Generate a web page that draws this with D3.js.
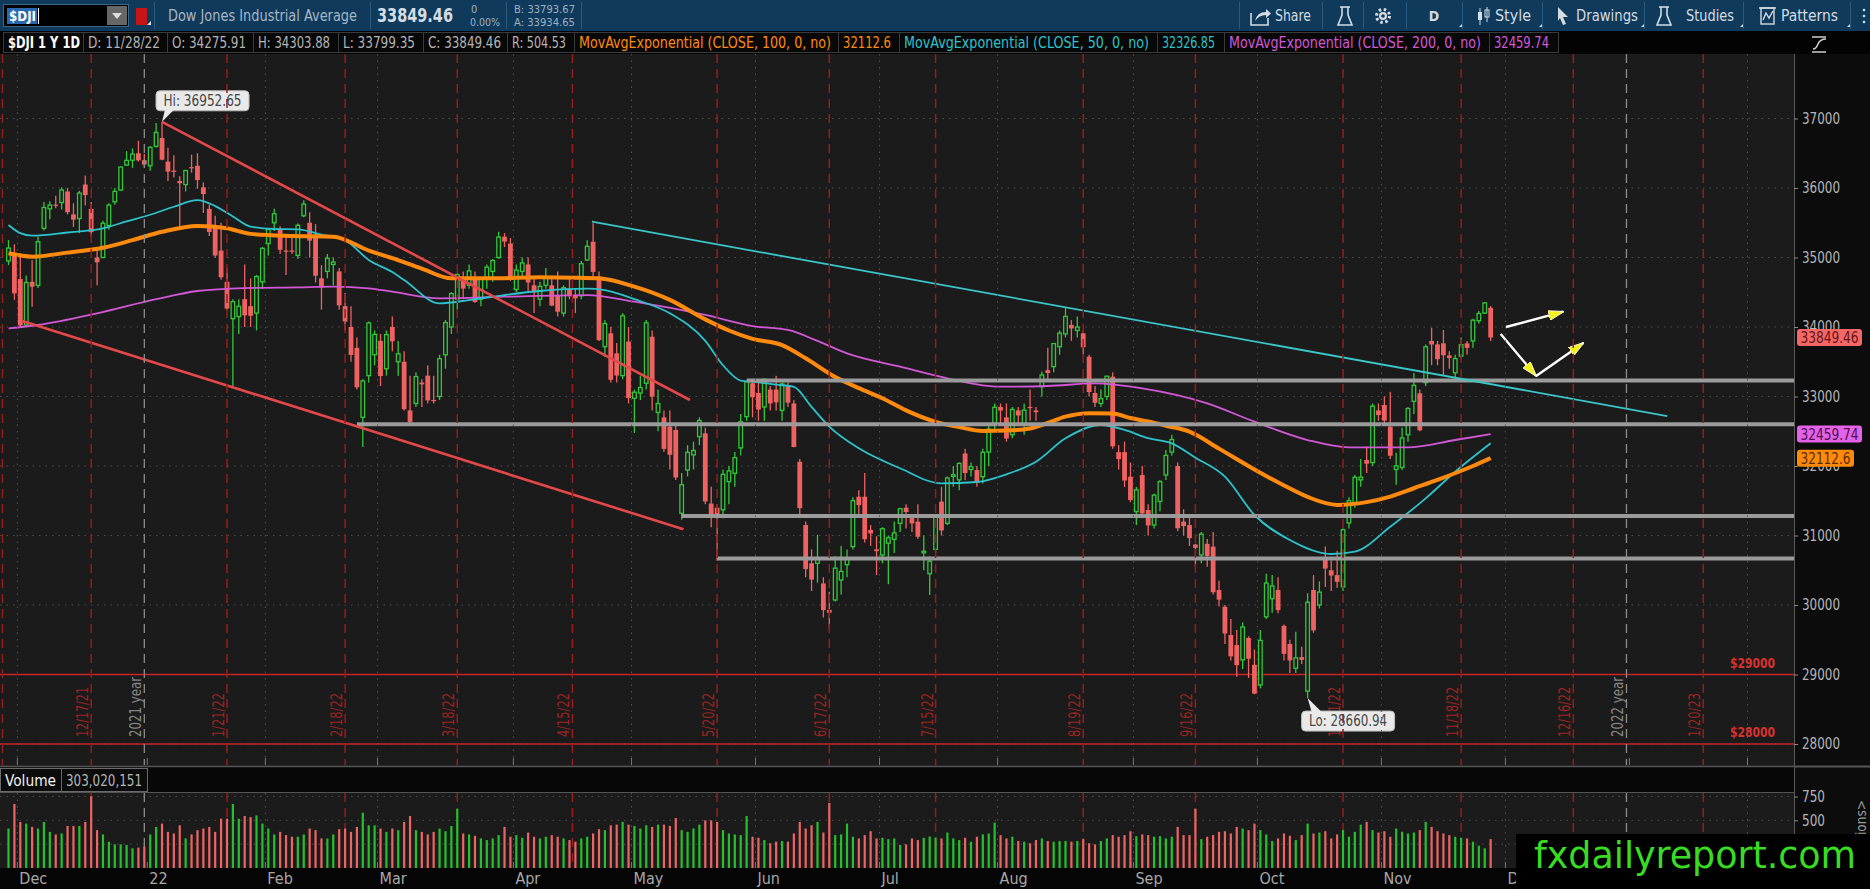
<!DOCTYPE html>
<html>
<head>
<meta charset="utf-8">
<script src="https://cdn.jsdelivr.net/npm/d3@7"></script>
<style>
html, body { margin: 0; padding: 0; background: #000; overflow: hidden; }
svg text { font-family: "Liberation Sans Narrow", "DejaVu Sans Condensed", "Liberation Sans", sans-serif; }
</style>
</head>
<body>
<svg id="chart" width="1870" height="889"></svg>
<script>
// ---- data ----
const holidays = ['2021-12-24', '2022-01-17', '2022-02-21', '2022-04-15', '2022-05-30', '2022-06-20',
	'2022-07-04', '2022-09-05', '2022-11-24', '2022-12-26', '2023-01-02', '2023-01-16'];
const firstDay = '2021-11-29', lastDay = '2023-02-10';
const expiries = ['2021-12-17', '2022-01-21', '2022-02-18', '2022-03-18', '2022-04-15', '2022-05-20', '2022-06-17',
	'2022-07-15', '2022-08-19', '2022-09-16', '2022-10-21', '2022-11-18', '2022-12-16', '2023-01-20'];
const yearEnds = [['2021-12-31', '2021 year'], ['2022-12-30', '2022 year']];
const monthNames = ['Dec', '22', 'Feb', 'Mar', 'Apr', 'May', 'Jun', 'Jul', 'Aug', 'Sep', 'Oct', 'Nov', 'Dec', '23', 'Feb'];
const priceTicks = [28000, 29000, 30000, 31000, 32000, 33000, 34000, 35000, 36000, 37000];
const volTicks = [250, 500, 750];

// open, high, low, close per session, 11/29/21 .. 11/28/22
const ohlc = [
	// Nov-Dec 2021
	[34950,35250,34890,35136],[35070,35190,34390,34484],[34690,35060,34006,34022],[34030,34740,34000,34640],
	[34650,34960,34290,34580],[34600,35300,34560,35227],[35420,35800,35390,35719],[35700,35810,35550,35754],
	[35760,35890,35710,35755],[35790,36010,35690,35971],[35950,36000,35620,35651],[35620,35780,35440,35544],
	[35560,35960,35350,35927],[36050,36180,35750,35898],[35700,35800,35300,35365],[35000,35100,34600,34932],
	[35000,35530,34990,35493],[35460,35780,35400,35754],[35800,36000,35760,35951],[35970,36310,35960,36302],
	[36330,36530,36320,36398],[36400,36570,36290,36489],[36500,36680,36380,36398],[36400,36490,36310,36338],
	// Jan 2022
	[36320,36600,36250,36585],[36600,36935,36580,36800],[36720,36952.65,36400,36407],[36380,36580,36100,36236],
	[36250,36470,36150,36232],[36100,36170,35420,36069],[36050,36260,35950,36252],[36300,36480,36220,36290],
	[36320,36500,35990,36114],[36010,36080,35640,35912],[35700,35760,35310,35368],[35450,35600,35000,35029],
	[35100,35500,34680,34715],[34650,34850,34240,34265],[34120,34400,33150,34365],[34150,34400,33900,34298],
	[34400,34900,34000,34168],[34300,34700,34000,34161],[34200,34750,33950,34725],[34650,35150,34550,35132],
	// Feb
	[35200,35420,35030,35405],[35500,35700,35380,35629],[35400,35450,35050,35111],[35100,35300,34750,35090],
	[35100,35300,35050,35091],[35030,35490,34980,35463],[35600,35825,35580,35768],[35500,35650,35000,35242],
	[35300,35480,34640,34738],[34700,34890,34250,34566],[34800,35050,34700,34989],[34900,35000,34600,34934],
	[34800,34850,34250,34312],[34300,34490,33950,34079],[34000,34300,33500,33597],[33700,33850,33100,33132],
	[32700,33250,32273,33224],[33300,34080,33200,34059],[33600,33950,33450,33893],
	// Mar
	[33800,33900,33150,33295],[33400,33950,33300,33891],[34000,34150,33650,33795],[33500,33800,33300,33615],
	[33500,33650,32800,32817],[32800,33300,32600,32633],[32900,33350,32850,33286],[33200,33250,32850,33174],
	[33300,33450,32900,32944],[32950,33300,32900,32945],[33000,33600,32950,33544],[33600,34100,33400,34063],
	[34000,34500,33900,34481],[34400,34770,34250,34755],[34700,34800,34400,34553],[34600,34900,34550,34807],
	[34700,34800,34350,34359],[34400,34720,34300,34708],[34700,34900,34550,34861],[34800,34980,34650,34956],
	[35000,35370,34980,35294],[35300,35350,35150,35229],[35200,35280,34660,34678],
	// Apr
	[34540,34900,34500,34818],[34800,35000,34700,34922],[34900,35000,34500,34641],[34600,34700,34200,34497],
	[34400,34650,34300,34584],[34600,34850,34550,34721],[34600,34700,34300,34308],[34450,34800,34150,34220],
	[34200,34600,34150,34565],[34550,34700,34400,34451],[34450,34550,34200,34412],[34450,34950,34400,34911],
	[34964,35250,34950,35161],[35227,35492,34700,34793],[34724,34800,33800,33811],[33717,34100,33570,34049],
	[33909,34000,33200,33240],[33620,33770,33200,33302],[33300,34200,33250,34161],[33790,34000,32900,32977],
	// May
	[32974,33100,32475,33062],[33050,33300,32950,33129],[33190,34100,33100,34061],[33860,33950,32800,32998],
	[32770,33100,32500,32899],[32700,32800,32200,32246],[32566,32800,31950,32161],[32518,32600,31800,31834],
	[31320,31900,31228,31730],[31942,32300,31850,32197],[32160,32350,31950,32223],[32422,32700,32300,32655],
	[32470,32550,31450,31490],[31460,31700,31120,31253],[31400,31450,30635,31262],[31370,31950,31250,31880],
	[31775,32000,31450,31929],[31895,32200,31700,32120],[32260,32750,32150,32637],[32710,33213,32650,33213],
	[33190,33250,32700,32990],
	// Jun
	[33050,33250,32650,32813],[32850,33250,32650,33248],[33100,33150,32800,32900],[33100,33300,32800,32916],
	[32800,33200,32650,33180],[33150,33200,32850,32911],[32900,32950,32270,32273],[32060,32100,31300,31393],
	[31150,31200,30400,30517],[30600,30800,30200,30365],[30600,31010,30320,30669],[30310,30400,29820,29927],
	[29930,30190,29653,29889],[30072,30700,30050,30530],[30360,30850,30150,30483],[30580,30800,30400,30677],
	[30840,31550,30800,31501],[31558,31650,31300,31438],[31558,31900,30900,30947],[31080,31150,30850,31029],
	[30800,30990,30430,30775],
	// Jul
	[30720,31120,30600,31097],[30890,31000,30300,30968],[30945,31200,30750,31038],[31175,31400,31050,31385],
	[31400,31450,31100,31338],[31250,31300,31050,31174],[31200,31450,30950,30981],[30750,31000,30500,30773],
	[30450,30700,30143,30630],[30800,31300,30750,31288],[31487,31700,31000,31073],[31175,31850,31150,31827],
	[31850,32000,31700,31875],[31800,32050,31650,32037],[32180,32250,31800,31899],[31950,32050,31850,31990],
	[31942,32000,31700,31762],[31846,32250,31750,32198],[32200,32600,32000,32530],[32614,32900,32500,32845],
	// Aug
	[32850,32900,32600,32798],[32700,32900,32350,32396],[32450,32850,32400,32813],[32800,32850,32600,32727],
	[32600,32900,32450,32803],[32850,33100,32650,32833],[32800,32850,32650,32774],[33140,33360,33000,33310],
	[33380,33700,33250,33337],[33430,33770,33350,33761],[33717,33950,33600,33912],[33900,34282,33850,34152],
	[34030,34100,33800,33980],[33950,34150,33850,33999],[33909,33950,33600,33707],[33573,33600,33000,33064],
	[33050,33150,32850,32910],[32900,33100,32850,32969],[33000,33300,32950,33292],[33285,33350,32250,32283],
	[32200,32300,31950,32099],[32200,32350,31700,31791],[31846,32050,31480,31510],
	// Sep
	[31343,31700,31150,31656],[31870,32000,31250,31318],[31367,31450,31000,31145],[31151,31600,31100,31581],
	[31490,31800,31350,31775],[31870,32230,31800,32152],[32200,32450,32150,32381],[32000,32050,31060,31105],
	[31200,31380,31000,31135],[31150,31300,30850,30962],[30870,30880,30550,30822],[30720,31050,30600,31020],
	[30880,30950,30550,30706],[30840,31050,30150,30184],[30216,30350,29980,30077],[29975,30000,29440,29590],
	[29568,29800,29200,29261],[29424,29640,28969,29135],[29210,29750,29080,29684],[29525,29550,28950,29226],
	[29140,29360,28715,28726],
	// Oct
	[28850,29640,28800,29491],[29830,30450,29800,30316],[30090,30430,29890,30274],[30216,30400,29880,29927],
	[29700,29720,29200,29297],[29440,29500,29020,29203],[29090,29616,29022,29239],[29250,29400,29150,29211],
	[28760,30170,28660.94,30039],[30216,30430,29600,29635],[30000,30340,29950,30186],[30670,30840,30260,30524],
	[30500,30640,30200,30424],[30430,30780,30250,30334],[30260,31100,30200,31083],[31180,31550,31100,31500],
	[31450,31870,31400,31837],[31800,32100,31700,31839],[32086,32280,31900,32033],[32050,32900,32000,32862],
	[32800,32900,32650,32733],
	// Nov
	[32877,33000,32600,32653],[32566,33069,32100,32148],[31950,32190,31730,32001],[31980,32550,31942,32403],
	[32450,32850,32350,32827],[32930,33338,32750,33161],[33046,33100,32500,32514],[33200,33750,33150,33715],
	[33800,33990,33450,33748],[33750,33800,33450,33537],[33765,33957,33300,33593],[33590,33650,33400,33554],
	[33340,33600,33250,33546],[33580,33850,33550,33746],[33765,33800,33600,33700],[33800,34120,33700,34098],
	[34090,34230,34050,34194],[34200,34360,34190,34347],[34275.91,34303.88,33799.35,33849.46]
];

// volume, millions of shares
const volumes = [
	414,672,483,466,431,414,483,379,352,362, 441,441,441,483,752,397,352,276,248,248,
	241,207,214,224,352,431,466,379,362,448, 310,352,397,414,431,379,517,517,672,517,
	545,534,552,466,414,352,379,345,328,328, 352,414,397,310,310,352,407,414,379,431,
	579,448,448,414,379,414,397,483,545,397, 379,352,379,414,386,441,621,362,352,338,
	310,293,310,345,431,328,345,317,372,328, 310,328,345,328,310,293,276,310,328,362,
	407,397,448,455,483,455,441,414,448,431, 455,455,441,524,397,379,414,455,500,500,
	483,397,362,352,345,545,328,317,293,259, 276,283,276,362,483,414,448,483,372,683,
	345,352,466,328,310,345,386,310,317,303, 310,241,248,310,293,317,330,320,
	310,372,310,293,317,276,328,352,362,476, 345,310,328,283,276,259,293,310,283,276,
	283,283,276,283,303,259,248,283,310,345, 328,345,386,334,352,345,328,334,310,328,
	431,345,345,621,303,328,345,379,386,362, 431,414,397,466,397,352,283,310,362,338,
	293,345,466,362,372,386,310,352,397,328, 379,455,483,397,372,386,328,414,380,362,
	372,397,483,431,386,362,345,328,317,310, 276,234,207,303
];

// studies: [bar, value]
const ema50 = [[0,35468],[2,35350],[4,35314],[10,35360],[16,35420],[20,35520],[24,35615],[28,35730],[32,35825],
	[35,35740],[38,35590],[41,35445],[45,35410],[49,35405],[53,35330],[57,35250],[61,34965],[65,34790],[67,34676],
	[73,34340],[78,34388],[84,34460],[90,34518],[98,34551],[101,34530],[106,34400],[112,34197],[118,33800],
	[121,33450],[124,33230],[126,33213],[130,33170],[133,33140],[136,32850],[139,32566],[144,32254],[151,31967],
	[158,31751],[164,31770],[169,31880],[174,32062],[179,32398],[185,32590],[189,32520],[193,32400],[197,32326],
	[201,32120],[206,31846],[211,31295],[217,30935],[224,30734],[228,30767],[234,31127],[240,31535],[245,31918],
	[251,32326.85]];
const ema100 = [[0,35060],[4,35012],[10,35070],[16,35140],[21,35250],[26,35370],[32,35455],[37,35420],[41,35340],
	[48,35310],[55,35300],[61,35100],[65,34990],[70,34840],[75,34700],[82,34700],[90,34715],[96,34710],[100,34700],
	[106,34580],[112,34390],[118,34110],[122,33950],[126,33830],[131,33740],[135,33550],[140,33280],[144,33120],
	[148,32975],[152,32800],[157,32635],[161,32560],[165,32505],[169,32510],[173,32540],[176,32620],[179,32710],
	[183,32760],[187,32755],[190,32690],[193,32640],[196,32580],[200,32495],[205,32250],[211,31950],[216,31720],
	[220,31555],[225,31440],[230,31480],[234,31560],[238,31680],[242,31800],[248,32000],[251,32112.6]];
const ema200 = [[0,33981],[5,34029],[15,34197],[25,34400],[32,34518],[40,34560],[49,34571],[55,34580],[61,34557],
	[65,34508],[73,34413],[84,34436],[98,34460],[106,34364],[118,34173],[126,34014],[132,33957],[137,33800],
	[142,33621],[151,33429],[159,33262],[168,33141],[176,33151],[184,33189],[192,33117],[203,32901],[211,32638],
	[220,32374],[227,32269],[237,32269],[245,32374],[251,32459.74]];

// drawings: [bar, price]
const channelUpper = [[26, 36952.65], [115.4, 32950]];
const channelLower = [[2.2, 34091], [114.3, 31089]];
const cyanTrend = [[98.8, 35515], [280.9, 32719]];
const srLevels = [[125, 33230], [59, 32600], [114, 31280], [120, 30670]];
const priceLevels = [29000, 28000];
const arrows = [
	[[253.6, 34000], [263.3, 34220]],
	[[252.7, 33899], [258.7, 33295]],
	[[258.7, 33295], [266.7, 33770]]
];

// ---- layout ----
const W = 1870, H = 889;
const PLOT_R = 1794, PLOT_T = 54, PLOT_B = 765;
const VOL_T = 793, VOL_B = 868;
const STEP = 5.905;
const BG = '#1b1b1b', UP = '#33c83b', DOWN = '#f06262';
const ORANGE = '#ff8a0d', CYAN = '#2cc3cc', MAGENTA = '#d258d6', GRAY = '#b4b4b4';

const parse = d3.utcParse('%Y-%m-%d');
const holidaySet = new Set(holidays);
const days = [];
for (let d = parse(firstDay); d <= parse(lastDay); d = d3.utcDay.offset(d, 1)) {
	const wd = d.getUTCDay();
	const key = d3.utcFormat('%Y-%m-%d')(d);
	if (wd !== 0 && wd !== 6 && !holidaySet.has(key)) days.push(d);
}
function dayIndex(s) {
	const t = parse(s);
	const i = days.findIndex(d => d >= t);
	return +days[i] === +t ? i : i - 0.5;
}

const bars = ohlc.map((r, i) => ({ i: i, o: r[0], h: r[1], l: r[2], c: r[3], v: volumes[i], up: r[3] > r[0] }));
const last = bars[bars.length - 1];

const x = d3.scaleLinear().domain([0, 1]).range([8.5, 8.5 + STEP]);
const y = d3.scaleLinear().domain([28000, 37000]).range([744, 118.5]);
const yv = d3.scaleLinear().domain([0, 750]).range([VOL_B, 796.5]);

const svg = d3.select('#chart');

function txt(g, px, py, s, o) {
	o = o || {};
	const t = g.append('text').attr('x', px).attr('y', py).text(s)
		.attr('fill', o.fill || GRAY)
		.attr('font-size', o.size || 14)
		.attr('text-anchor', o.anchor || 'start');
	if (o.bold) t.attr('font-weight', 'bold');
	if (o.len) t.attr('textLength', o.len).attr('lengthAdjust', 'spacingAndGlyphs');
	return t;
}

// backgrounds
svg.append('rect').attr('width', W).attr('height', H).attr('fill', '#050505');
svg.append('rect').attr('x', 0).attr('y', PLOT_T).attr('width', PLOT_R).attr('height', PLOT_B - PLOT_T).attr('fill', BG);
svg.append('rect').attr('x', 0).attr('y', VOL_T).attr('width', PLOT_R).attr('height', VOL_B - VOL_T).attr('fill', BG);
svg.append('rect').attr('x', PLOT_R).attr('y', PLOT_T).attr('width', W - PLOT_R).attr('height', VOL_B - PLOT_T).attr('fill', '#0c0c0c');
svg.append('line').attr('x1', PLOT_R + 0.5).attr('x2', PLOT_R + 0.5).attr('y1', PLOT_T).attr('y2', VOL_B).attr('stroke', '#5a5a5a');
svg.append('line').attr('x1', 0).attr('x2', W).attr('y1', 766.5).attr('y2', 766.5).attr('stroke', '#555').attr('stroke-width', 2);
svg.append('line').attr('x1', 0).attr('x2', PLOT_R).attr('y1', 792.5).attr('y2', 792.5).attr('stroke', '#555');

const defs = svg.append('defs');
defs.append('clipPath').attr('id', 'plotClip').append('rect')
	.attr('x', 0).attr('y', PLOT_T).attr('width', PLOT_R).attr('height', PLOT_B - PLOT_T);
defs.append('marker').attr('id', 'yhead').attr('viewBox', '0 0 16 10').attr('refX', 15).attr('refY', 5)
	.attr('markerWidth', 16).attr('markerHeight', 10).attr('markerUnits', 'userSpaceOnUse').attr('orient', 'auto')
	.append('path').attr('d', 'M0,0 L16,5 L0,10 Z').attr('fill', '#f2f21e').attr('stroke', '#fff').attr('stroke-width', 0.8);

const plot = svg.append('g').attr('clip-path', 'url(#plotClip)');

// grid
plot.selectAll('line.hgrid').data(priceTicks).join('line')
	.attr('x1', 0).attr('x2', PLOT_R).attr('y1', d => y(d)).attr('y2', d => y(d))
	.attr('stroke', '#4e4e4e').attr('stroke-dasharray', '1.5,5');
svg.selectAll('line.vgrid').data(volTicks).join('line')
	.attr('x1', 0).attr('x2', PLOT_R).attr('y1', d => yv(d)).attr('y2', d => yv(d))
	.attr('stroke', '#4e4e4e').attr('stroke-dasharray', '1.5,5');

// month ticks (first session of each month; the data starts in late November)
const months = [];
days.forEach((d, i) => {
	if (i > 0 && d.getUTCMonth() !== days[i - 1].getUTCMonth()) months.push({ i: i, d: d });
});
months.forEach((m, k) => { m.label = monthNames[k]; m.x = x(m.i) - STEP / 2; });
const monthLines = months.filter(m => m.d.getUTCMonth() !== 0);
[[PLOT_T, PLOT_B], [VOL_T, VOL_B]].forEach(r => {
	svg.append('g').selectAll('line').data(monthLines).join('line')
		.attr('x1', d => d.x).attr('x2', d => d.x).attr('y1', r[0]).attr('y2', r[1])
		.attr('stroke', '#555').attr('stroke-dasharray', '1.5,5');
});
svg.append('g').selectAll('line').data(months).join('line')
	.attr('x1', d => d.x).attr('x2', d => d.x).attr('y1', PLOT_B - 7).attr('y2', PLOT_B)
	.attr('stroke', '#777');
svg.append('g').selectAll('line').data(months).join('line')
	.attr('x1', d => d.x).attr('x2', d => d.x).attr('y1', VOL_B - 6).attr('y2', VOL_B)
	.attr('stroke', '#777');

// expiry and year lines
const expFmt = d3.utcFormat('%-m/%-d/%y');
const expData = expiries.map(s => ({ x: x(dayIndex(s)), label: expFmt(parse(s)) }));
[[PLOT_T, PLOT_B], [VOL_T, VOL_B]].forEach(r => {
	svg.append('g').selectAll('line').data(expData).join('line')
		.attr('x1', d => d.x).attr('x2', d => d.x).attr('y1', r[0]).attr('y2', r[1])
		.attr('stroke', '#961d1d').attr('stroke-width', 1.5).attr('stroke-dasharray', '9,6');
	svg.append('g').selectAll('line').data(yearEnds).join('line')
		.attr('x1', d => x(dayIndex(d[0]))).attr('x2', d => x(dayIndex(d[0]))).attr('y1', r[0]).attr('y2', r[1])
		.attr('stroke', '#8c8c8c').attr('stroke-width', 1.3).attr('stroke-dasharray', '9,6');
});
svg.append('line').attr('x1', 2.5).attr('x2', 2.5).attr('y1', PLOT_T).attr('y2', PLOT_B)
	.attr('stroke', '#961d1d').attr('stroke-width', 1.5).attr('stroke-dasharray', '9,6');
expData.forEach(d => {
	txt(plot, 0, 0, d.label, { fill: '#9a2424', size: 15, len: d.label.length > 7 ? 50 : 44 })
		.attr('transform', 'translate(' + (d.x - 3) + ',737) rotate(-90)');
});
yearEnds.forEach(d => {
	txt(plot, 0, 0, d[1], { fill: '#858585', size: 15, len: 60 })
		.attr('transform', 'translate(' + (x(dayIndex(d[0])) - 3) + ',737) rotate(-90)');
});

// fixed price levels
priceLevels.forEach(p => {
	plot.append('line').attr('x1', 0).attr('x2', PLOT_R).attr('y1', y(p)).attr('y2', y(p))
		.attr('stroke', '#c8242a').attr('stroke-width', 1.6);
	txt(plot, 1775, y(p) - 7, '$' + p, { fill: '#d8322f', size: 14, bold: true, anchor: 'end', len: 45 });
});

// candles
const cg = plot.append('g');
cg.selectAll('line').data(bars).join('line')
	.attr('x1', d => x(d.i)).attr('x2', d => x(d.i))
	.attr('y1', d => y(d.h)).attr('y2', d => y(d.l))
	.attr('stroke', d => d.up ? UP : DOWN).attr('stroke-width', 1.3);
cg.selectAll('rect').data(bars).join('rect')
	.attr('x', d => d.up ? x(d.i) - 1.8 : x(d.i) - 2.4)
	.attr('width', d => d.up ? 3.6 : 4.8)
	.attr('y', d => y(Math.max(d.o, d.c)))
	.attr('height', d => Math.max(1.2, Math.abs(y(d.o) - y(d.c))))
	.attr('fill', d => d.up ? BG : DOWN)
	.attr('stroke', d => d.up ? UP : 'none').attr('stroke-width', 1.3);

// moving averages
const emaLine = d3.line().x(d => x(d[0])).y(d => y(d[1])).curve(d3.curveMonotoneX);
plot.append('path').attr('d', emaLine(ema200)).attr('fill', 'none').attr('stroke', MAGENTA).attr('stroke-width', 1.8);
plot.append('path').attr('d', emaLine(ema50)).attr('fill', 'none').attr('stroke', CYAN).attr('stroke-width', 1.8);
plot.append('path').attr('d', emaLine(ema100)).attr('fill', 'none').attr('stroke', ORANGE).attr('stroke-width', 4);

// drawings
srLevels.forEach(s => {
	plot.append('line').attr('x1', x(s[0])).attr('x2', PLOT_R).attr('y1', y(s[1])).attr('y2', y(s[1]))
		.attr('stroke', '#9b9b9b').attr('stroke-width', 4);
});
const seg = d3.line().x(d => x(d[0])).y(d => y(d[1]));
[channelUpper, channelLower].forEach(l => {
	plot.append('path').attr('d', seg(l)).attr('stroke', '#e5484b').attr('stroke-width', 2.6).attr('fill', 'none');
});
plot.append('path').attr('d', seg(cyanTrend)).attr('stroke', '#3cc6c8').attr('stroke-width', 1.8).attr('fill', 'none');
arrows.forEach(a => {
	plot.append('path').attr('d', seg(a)).attr('stroke', '#fff').attr('stroke-width', 2.4)
		.attr('fill', 'none').attr('marker-end', 'url(#yhead)');
});

// hi / lo bubbles
const hiBar = bars.reduce((a, b) => b.h > a.h ? b : a);
const loBar = bars.reduce((a, b) => b.l < a.l ? b : a);
function bubble(px, py, s, above) {
	const g = plot.append('g');
	const by = above ? py - 31 : py + 13;
	const tail = above
		? 'M' + (px + 3) + ',' + (by + 19) + ' L' + px + ',' + py + ' L' + (px + 12) + ',' + (by + 19) + ' Z'
		: 'M' + (px + 4) + ',' + (by + 1) + ' L' + px + ',' + py + ' L' + (px + 14) + ',' + (by + 1) + ' Z';
	g.append('rect').attr('x', px - 6).attr('y', by).attr('width', 93).attr('height', 20).attr('rx', 4)
		.attr('fill', '#e9e9e9').attr('stroke', '#bdbdbd');
	g.append('path').attr('d', tail).attr('fill', '#e9e9e9');
	txt(g, px + 40.5, by + 15, s, { fill: '#454545', size: 15, anchor: 'middle', len: 78 });
}
bubble(x(hiBar.i), y(hiBar.h), 'Hi: ' + d3.format('.2f')(hiBar.h), true);
bubble(x(loBar.i), y(loBar.l), 'Lo: ' + d3.format('.2f')(loBar.l), false);

// volume
svg.append('g').selectAll('rect').data(bars).join('rect')
	.attr('x', d => x(d.i) - 1.1).attr('width', 2.2)
	.attr('y', d => yv(d.v)).attr('height', d => VOL_B - yv(d.v))
	.attr('fill', d => d.up ? '#25c02e' : '#ec6464');

// price axis
const axis = svg.append('g').attr('transform', 'translate(' + PLOT_R + ',0)')
	.call(d3.axisRight(y).tickValues(priceTicks).tickSize(4).tickPadding(4).tickFormat(d3.format('d')));
axis.select('.domain').remove();
axis.selectAll('line').attr('stroke', '#888');
axis.selectAll('text').attr('fill', GRAY).attr('font-size', 15)
	.attr('textLength', 38).attr('lengthAdjust', 'spacingAndGlyphs');
const vaxis = svg.append('g').attr('transform', 'translate(' + PLOT_R + ',0)')
	.call(d3.axisRight(yv).tickValues(volTicks).tickSize(4).tickPadding(4).tickFormat(d3.format('d')));
vaxis.select('.domain').remove();
vaxis.selectAll('line').attr('stroke', '#888');
vaxis.selectAll('text').attr('fill', GRAY).attr('font-size', 15)
	.attr('textLength', 23).attr('lengthAdjust', 'spacingAndGlyphs');
txt(svg, 0, 0, '<Millions>', { fill: '#9a9a9a', size: 14, anchor: 'end', len: 66 })
	.attr('transform', 'translate(1866,800) rotate(-90)');

// last-value bubbles
const tags = [
	{ v: last.c, label: d3.format('.2f')(last.c), fill: '#f46767', ink: '#651616', w: 65 },
	{ v: ema200[ema200.length - 1][1], label: '32459.74', fill: '#e462e7', ink: '#4f0f52', w: 65 },
	{ v: ema100[ema100.length - 1][1], label: '32112.6', fill: '#ff8a0a', ink: '#5c2a00', w: 57 }
];
tags.forEach(t => {
	svg.append('rect').attr('x', 1797).attr('y', y(t.v) - 8.5).attr('width', t.w).attr('height', 17).attr('rx', 3)
		.attr('fill', t.fill);
	txt(svg, 1797 + t.w / 2, y(t.v) + 5.5, t.label, { fill: t.ink, size: 15, anchor: 'middle', len: t.w - 7 });
});

// volume header and x axis
svg.append('rect').attr('x', 0).attr('y', 767.5).attr('width', PLOT_R).attr('height', 24.5).attr('fill', '#070707');
svg.append('rect').attr('x', 0.5).attr('y', 768.5).attr('width', 61).attr('height', 23).attr('fill', '#0b0b0b').attr('stroke', '#6a6a6a');
svg.append('rect').attr('x', 61.5).attr('y', 768.5).attr('width', 86).attr('height', 23).attr('fill', '#0b0b0b').attr('stroke', '#6a6a6a');
txt(svg, 5, 786, 'Volume', { fill: '#f0f0f0', size: 15, len: 51 });
txt(svg, 66, 786, d3.format(',')(303020151), { fill: GRAY, size: 15, len: 76 });
months.forEach(m => {
	txt(svg, m.x + 2, 884, m.label, { fill: '#a8a8a8', size: 16 });
});

// header row 1
const hdr = svg.append('g');
hdr.append('rect').attr('width', W).attr('height', 31).attr('fill', '#0f3a5c');
hdr.append('rect').attr('x', 3.5).attr('y', 4.5).attr('width', 125).attr('height', 22).attr('fill', '#000').attr('stroke', '#3f6586');
hdr.append('rect').attr('x', 7).attr('y', 8).attr('width', 30).attr('height', 16).attr('fill', '#2b68ad');
txt(hdr, 9, 21, '$DJI', { fill: '#fff', size: 14, bold: true, len: 27 });
hdr.append('line').attr('x1', 38.5).attr('x2', 38.5).attr('y1', 8).attr('y2', 24).attr('stroke', '#fff');
hdr.append('rect').attr('x', 107).attr('y', 6).attr('width', 20).attr('height', 19).attr('fill', '#666');
hdr.append('path').attr('d', 'M112,13 L122,13 L117,19 Z').attr('fill', '#ddd');
hdr.append('rect').attr('x', 136).attr('y', 8).attr('width', 11).attr('height', 17).attr('fill', '#c41616');
hdr.append('path').attr('d', 'M147,25 L151,25 L151,21 Z').attr('fill', '#dfe6ec');
[154, 370, 506, 581, 1239, 1322, 1363, 1406, 1462, 1542, 1644, 1743, 1850].forEach(sx => {
	hdr.append('line').attr('x1', sx + 0.5).attr('x2', sx + 0.5).attr('y1', 2).attr('y2', 29).attr('stroke', '#2a5a80');
});
txt(hdr, 168, 21, 'Dow Jones Industrial Average', { fill: '#a7b6c4', size: 15, len: 189 });
txt(hdr, 377, 22, d3.format('.2f')(last.c), { fill: '#d6dce2', size: 19, bold: true, len: 76 });
txt(hdr, 471, 13, '0', { fill: '#9fb0bf', size: 11 });
txt(hdr, 470, 26, '0.00%', { fill: '#9fb0bf', size: 11, len: 30 });
txt(hdr, 514, 13, 'B: 33793.67', { fill: '#9fb0bf', size: 11, len: 61 });
txt(hdr, 514, 26, 'A: 33934.65', { fill: '#9fb0bf', size: 11, len: 61 });
const ink = '#d3dbe3';
// share
hdr.append('path').attr('d', 'M1251,13 L1251,25 L1268,25 L1268,18').attr('fill', 'none').attr('stroke', ink).attr('stroke-width', 1.6);
hdr.append('path').attr('d', 'M1255,21 Q1257,12 1266,12 L1266,9 L1271,13.5 L1266,18 L1266,15 Q1259,15 1255,21 Z').attr('fill', ink);
txt(hdr, 1275, 21, 'Share', { fill: ink, size: 15, len: 36 });
// flasks
function flask(cx) {
	hdr.append('path').attr('d', 'M' + (cx - 3) + ',7 L' + (cx - 3) + ',15 L' + (cx - 7) + ',25 L' + (cx + 7) + ',25 L' + (cx + 3) + ',15 L' + (cx + 3) + ',7')
		.attr('fill', 'none').attr('stroke', ink).attr('stroke-width', 1.6);
	hdr.append('line').attr('x1', cx - 5).attr('x2', cx + 5).attr('y1', 7).attr('y2', 7).attr('stroke', ink).attr('stroke-width', 1.6);
}
flask(1345);
flask(1664);
// gear
hdr.append('circle').attr('cx', 1383).attr('cy', 16).attr('r', 6.5).attr('fill', 'none').attr('stroke', ink)
	.attr('stroke-width', 3).attr('stroke-dasharray', '2.5,2.6');
hdr.append('circle').attr('cx', 1383).attr('cy', 16).attr('r', 4).attr('fill', ink);
hdr.append('circle').attr('cx', 1383).attr('cy', 16).attr('r', 1.8).attr('fill', '#0f3a5c');
txt(hdr, 1434, 21, 'D', { fill: ink, size: 14, bold: true, anchor: 'middle' });
// style
hdr.append('line').attr('x1', 1480).attr('x2', 1480).attr('y1', 8).attr('y2', 25).attr('stroke', ink);
hdr.append('rect').attr('x', 1478).attr('y', 12).attr('width', 4).attr('height', 8).attr('fill', ink);
hdr.append('line').attr('x1', 1487).attr('x2', 1487).attr('y1', 7).attr('y2', 22).attr('stroke', ink);
hdr.append('rect').attr('x', 1485).attr('y', 10).attr('width', 4).attr('height', 7).attr('fill', 'none').attr('stroke', ink);
txt(hdr, 1495, 21, 'Style', { fill: ink, size: 15, len: 36 });
// drawings
hdr.append('path').attr('d', 'M1558,7 L1568,17 L1563,17 L1566,24 L1563,25 L1560,18 L1558,21 Z').attr('fill', ink);
txt(hdr, 1576, 21, 'Drawings', { fill: ink, size: 15, len: 62 });
txt(hdr, 1686, 21, 'Studies', { fill: ink, size: 15, len: 48 });
// patterns
hdr.append('rect').attr('x', 1761).attr('y', 8).attr('width', 13).attr('height', 16).attr('fill', 'none').attr('stroke', ink).attr('stroke-width', 1.4);
hdr.append('path').attr('d', 'M1759,8 L1776,8 M1763,20 L1766,13 L1769,18 L1773,11').attr('fill', 'none').attr('stroke', ink).attr('stroke-width', 1.4);
txt(hdr, 1781, 21, 'Patterns', { fill: ink, size: 15, len: 57 });
[1864, 1864, 1864].forEach((cx, k) => hdr.append('circle').attr('cx', cx).attr('cy', 10 + k * 6).attr('r', 1.3).attr('fill', ink));
[1459, 1539, 1641, 1740, 1847].forEach(cx => hdr.append('path').attr('d', 'M' + cx + ',27 L' + (cx + 3) + ',27 L' + (cx + 3) + ',24 Z').attr('fill', ink));

// header row 2
const row2 = svg.append('g');
row2.append('rect').attr('y', 31).attr('width', W).attr('height', 23).attr('fill', '#030303');
const cells = [
	[3, 83, '$DJI 1 Y 1D', '#ffffff', true, 72],
	[83, 167, 'D: ' + d3.utcFormat('%m/%d/%y')(days[last.i]), GRAY, false, 72],
	[167, 253, 'O: ' + d3.format('.2f')(last.o), GRAY, false, 74],
	[253, 338, 'H: ' + d3.format('.2f')(last.h), GRAY, false, 72],
	[338, 423, 'L: ' + d3.format('.2f')(last.l), GRAY, false, 72],
	[423, 507, 'C: ' + d3.format('.2f')(last.c), GRAY, false, 73],
	[507, 574, 'R: ' + d3.format('.2f')(last.h - last.l), GRAY, false, 54],
	[574, 838, 'MovAvgExponential (CLOSE, 100, 0, no)', ORANGE, false, 252],
	[838, 899, '32112.6', ORANGE, false, 48],
	[899, 1157, 'MovAvgExponential (CLOSE, 50, 0, no)', CYAN, false, 245],
	[1157, 1224, '32326.85', CYAN, false, 53],
	[1224, 1489, 'MovAvgExponential (CLOSE, 200, 0, no)', MAGENTA, false, 252],
	[1489, 1558, '32459.74', MAGENTA, false, 55]
];
cells.forEach(c => {
	row2.append('rect').attr('x', c[0] + 0.5).attr('y', 32.5).attr('width', c[1] - c[0]).attr('height', 20)
		.attr('fill', '#080808').attr('stroke', '#3a3a3a');
	txt(row2, c[0] + 5, 47.5, c[2], { fill: c[3], size: 15, bold: c[4], len: c[5] });
});
row2.append('path').attr('d', 'M1812,37 L1826,37 M1812,52 L1826,52 M1813,49 Q1816,49 1818,44 Q1820,39 1826,39')
	.attr('fill', 'none').attr('stroke', '#cfcfcf').attr('stroke-width', 1.6);

// watermark
svg.append('rect').attr('x', 1516).attr('y', 834).attr('width', W - 1516).attr('height', H - 834).attr('fill', '#000');
txt(svg, 1534, 868, 'fxdailyreport.com', { fill: '#39dc22', size: 38, len: 322 });
</script>
</body>
</html>
